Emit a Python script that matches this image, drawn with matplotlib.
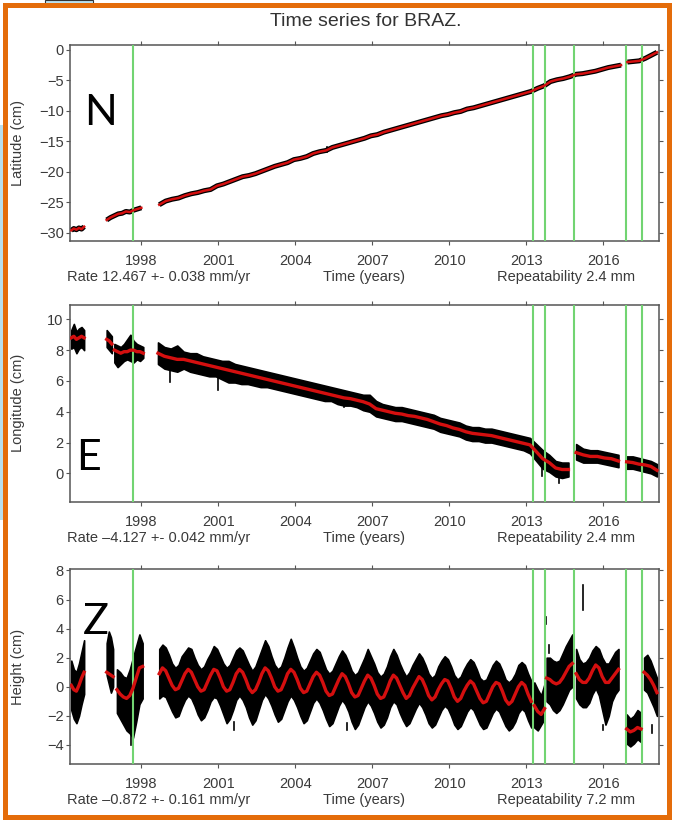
import numpy as np
import matplotlib
matplotlib.use("Agg")
import matplotlib.pyplot as plt
from matplotlib.patches import Rectangle

# ---------------- data ----------------
year_ticks = [1998, 2001, 2004, 2007, 2010, 2013, 2016]
breaks = [1997.66, 2013.28, 2013.74, 2014.88, 2016.88, 2017.52]

# North (latitude, cm): segment starts / steps / values
n_starts = [1995.27, 1996.65, 1998.70, 2016.95]
n_steps = [0.10, 0.15, 0.25, 0.23]
n_a = [-29.6, -29.3, -29.5, -29.2, -29.4, -29.0]
n_b = [-27.9, -27.5, -27.2, -26.9, -26.8, -26.5, -26.6, -26.3, -26.1, -25.9]
n_c = [-25.4, -24.8, -24.5, -24.3, -23.9, -23.6, -23.4, -23.1, -22.9, -22.3,
       -22.0, -21.6, -21.2, -20.8, -20.6, -20.3, -19.9, -19.5, -19.1, -18.8,
       -18.5, -18.0, -17.8, -17.5, -17.0, -16.7, -16.5, -16.0, -15.7, -15.4,
       -15.1, -14.8, -14.5, -14.1, -13.9, -13.5, -13.2, -12.9, -12.6, -12.3,
       -12.0, -11.7, -11.4, -11.1, -10.8, -10.6, -10.3, -10.1, -9.7, -9.5,
       -9.2, -8.9, -8.6, -8.3, -8.0, -7.7, -7.4, -7.1, -6.8, -6.3,
       -5.9, -5.2, -4.9, -4.7, -4.4, -4.0, -3.9, -3.7, -3.5, -3.2,
       -2.9, -2.7, -2.5]
n_d = [-2.0, -1.9, -1.8, -1.4, -0.9, -0.4]
n_spikes = [(2005.25, -16.8, -15.9)]

# East (longitude, cm)
e_starts = [1995.27, 1996.65, 1996.95, 1998.65, 2014.95, 2016.92]
e_steps = [0.10, 0.10, 0.125, 0.25, 0.275, 0.236]
e_model = [
    [8.8, 8.9, 8.7, 8.8, 8.9, 8.8],
    [8.7, 8.6, 8.4],
    [8.0, 7.9, 7.8, 7.9, 7.9, 8.0, 8.0, 7.9, 7.9, 7.8],
    [7.8, 7.6, 7.5, 7.4, 7.4, 7.3, 7.2, 7.1, 7.0, 6.9,
     6.8, 6.7, 6.6, 6.5, 6.4, 6.3, 6.2, 6.1, 6.0, 5.9,
     5.8, 5.7, 5.6, 5.5, 5.4, 5.3, 5.2, 5.1, 5.0, 4.9,
     4.85, 4.75, 4.65, 4.5, 4.2, 4.1, 4.0, 3.9, 3.85, 3.75,
     3.7, 3.6, 3.5, 3.35, 3.2, 3.1, 2.95, 2.85, 2.7, 2.6,
     2.55, 2.5, 2.45, 2.35, 2.25, 2.15, 2.05, 1.95, 1.85, 1.4,
     0.95, 0.7, 0.35, 0.25, 0.25],
    [1.35, 1.2, 1.1, 1.1, 1.0, 0.95, 0.8],
    [0.75, 0.7, 0.6, 0.55, 0.45, 0.2],
]
e_hi = [
    [9.3, 9.7, 9.2, 9.4, 9.5, 9.3],
    [9.3, 9.1, 8.9],
    [8.4, 8.3, 8.2, 8.4, 8.7, 9.0, 8.6, 8.4, 8.3, 8.2],
    [8.5, 8.2, 8.1, 8.3, 7.9, 7.8, 7.8, 7.6, 7.5, 7.4,
     7.3, 7.3, 7.1, 7.0, 6.9, 6.8, 6.7, 6.6, 6.5, 6.4,
     6.3, 6.2, 6.1, 6.0, 5.9, 5.8, 5.7, 5.6, 5.5, 5.4,
     5.3, 5.2, 5.1, 5.1, 4.7, 4.5, 4.4, 4.3, 4.3, 4.2,
     4.1, 4.0, 3.9, 3.8, 3.6, 3.5, 3.4, 3.3, 3.1, 3.0,
     3.0, 2.9, 2.9, 2.8, 2.7, 2.6, 2.5, 2.4, 2.3, 1.9,
     1.5, 1.2, 0.8, 0.7, 0.7],
    [1.9, 1.6, 1.5, 1.5, 1.4, 1.3, 1.2],
    [1.1, 1.1, 1.0, 0.9, 0.8, 0.6],
]
e_lo = [
    [8.1, 8.2, 7.8, 8.1, 8.2, 8.0],
    [8.2, 8.0, 7.8],
    [7.2, 6.9, 7.1, 7.3, 7.4, 7.3, 7.2, 7.4, 7.3, 7.5],
    [7.1, 6.8, 6.7, 6.6, 6.8, 6.6, 6.5, 6.4, 6.3, 6.3,
     6.1, 5.9, 5.9, 5.8, 5.8, 5.7, 5.6, 5.6, 5.5, 5.4,
     5.3, 5.2, 5.1, 5.0, 4.9, 4.8, 4.7, 4.7, 4.5, 4.4,
     4.4, 4.3, 4.1, 4.0, 3.7, 3.6, 3.5, 3.4, 3.4, 3.3,
     3.2, 3.1, 3.0, 2.9, 2.7, 2.6, 2.5, 2.4, 2.2, 2.1,
     2.1, 2.0, 2.0, 1.9, 1.8, 1.7, 1.6, 1.5, 1.3, 0.8,
     0.3, 0.1, -0.2, -0.3, -0.2],
    [0.9, 0.7, 0.7, 0.7, 0.6, 0.5, 0.4],
    [0.3, 0.3, 0.2, 0.1, 0.0, -0.2],
]
e_spikes = [(1999.1, 5.9, 6.8), (2001.0, 5.4, 6.2), (2005.9, 4.3, 4.9),
            (2013.6, -0.2, 0.5), (2014.3, -0.6, -0.1)]

# Height (cm)
z_starts = [1995.27, 1996.65, 1997.05, 1998.70, 2013.32, 2013.80, 2014.95,
            2016.92, 2017.60]
z_steps = [0.10, 0.083, 0.125, 0.125, 0.133, 0.125, 0.127, 0.14, 0.125]
z_model = [
    [0.1, -0.2, -0.3, 0.1, 0.6, 1.0],
    [1.0, 0.9, 0.8, 0.7],
    [-0.2, -0.5, -0.7, -0.8, -0.6, -0.1, 0.6, 1.3, 1.4],
    [0.9, 1.3, 1.1, 0.6, 0.1, -0.2, -0.1, 0.4,
     0.9, 1.2, 1.0, 0.5, 0.0, -0.3, -0.2, 0.3,
     0.8, 1.2, 1.1, 0.6, 0.0, -0.3, -0.2, 0.3,
     0.9, 1.2, 1.0, 0.5, -0.1, -0.4, -0.2, 0.3,
     0.9, 1.3, 1.1, 0.6, 0.0, -0.3, -0.2, 0.3,
     0.9, 1.2, 1.0, 0.5, -0.1, -0.4, -0.3, 0.2,
     0.7, 1.0, 0.8, 0.3, -0.3, -0.6, -0.5, 0.0,
     0.5, 0.9, 0.7, 0.2, -0.4, -0.7, -0.6, -0.1,
     0.4, 0.8, 0.6, 0.1, -0.5, -0.8, -0.7, -0.2,
     0.4, 0.8, 0.6, 0.1, -0.4, -0.8, -0.6, -0.1,
     0.3, 0.7, 0.5, 0.0, -0.6, -0.9, -0.7, -0.2,
     0.2, 0.5, 0.4, -0.1, -0.7, -1.0, -0.8, -0.3,
     0.1, 0.4, 0.2, -0.3, -0.8, -1.1, -1.0, -0.5,
     0.0, 0.3, 0.2, -0.3, -0.9, -1.2, -1.0, -0.5,
     0.0, 0.3, 0.1, -0.5, -1.0],
    [-1.3, -1.7, -1.9, -1.5],
    [0.6, 0.5, 0.3, 0.2, 0.3, 0.6, 1.0, 1.4, 1.6],
    [0.9, 0.5, 0.3, 0.3, 0.6, 1.1, 1.5, 1.3, 0.7, 0.3, 0.3, 0.6, 0.9, 1.2],
    [-2.9, -3.1, -3.0, -2.8, -2.9],
    [1.0, 0.8, 0.5, 0.1, -0.4],
]
z_hi = [
    [1.8, 1.2, 1.0, 1.6, 2.4, 3.2],
    [3.0, 3.8, 3.4, 2.6],
    [1.2, 1.0, 0.7, 0.6, 1.2, 2.0, 2.8, 3.6, 3.0],
    [2.6, 2.9, 2.7, 2.2, 1.6, 1.3, 1.5, 2.1,
     2.4, 2.7, 2.6, 2.0, 1.5, 1.2, 1.4, 1.9,
     2.3, 2.8, 2.6, 2.1, 1.6, 1.3, 1.5, 2.0,
     2.5, 2.7, 2.5, 2.0, 1.5, 1.1, 1.4, 2.0,
     2.6, 3.2, 2.8, 2.1, 1.5, 1.2, 1.4, 2.0,
     2.7, 3.3, 2.7, 2.0, 1.4, 1.1, 1.3, 1.8,
     2.3, 2.6, 2.4, 1.8, 1.2, 0.9, 1.1, 1.6,
     2.1, 2.5, 2.2, 1.7, 1.1, 0.8, 1.0, 1.5,
     2.0, 2.6, 2.1, 1.6, 1.0, 0.7, 0.9, 1.4,
     2.1, 2.6, 2.2, 1.6, 1.1, 0.7, 1.0, 1.5,
     1.9, 2.3, 2.0, 1.5, 0.9, 0.6, 0.8, 1.4,
     1.8, 2.1, 1.9, 1.4, 0.8, 0.5, 0.7, 1.2,
     1.6, 1.9, 1.7, 1.2, 0.6, 0.4, 0.5, 1.0,
     1.5, 1.8, 1.6, 1.1, 0.5, 0.3, 0.5, 0.9,
     1.5, 1.7, 1.5, 0.9, 0.4],
    [0.3, -0.2, -0.6, 0.2],
    [2.0, 2.0, 1.8, 1.7, 1.8, 2.3, 2.8, 3.2, 3.6],
    [2.6, 1.9, 1.6, 1.7, 2.0, 2.5, 2.8, 2.6, 2.0, 1.6, 1.6, 2.0, 2.4, 2.6],
    [-1.9, -2.2, -2.0, -1.6, -1.8],
    [2.0, 2.2, 1.8, 1.2, 0.6],
]
z_lo = [
    [-1.6, -2.2, -2.5, -2.0, -1.2, -0.5],
    [0.8, 0.2, -0.4, 0.0],
    [-1.8, -2.2, -2.6, -3.0, -3.2, -3.5, -2.4, -1.2, -0.8],
    [-0.8, -0.6, -0.7, -1.2, -1.7, -2.1, -2.0, -1.4,
     -0.9, -0.6, -0.8, -1.3, -1.9, -2.3, -2.1, -1.6,
     -1.0, -0.7, -0.8, -1.3, -1.9, -2.5, -2.2, -1.6,
     -0.9, -0.6, -0.9, -1.4, -2.1, -2.6, -2.3, -1.6,
     -0.9, -0.5, -0.8, -1.3, -1.9, -2.4, -2.2, -1.6,
     -1.0, -0.6, -0.9, -1.4, -2.0, -2.5, -2.3, -1.7,
     -1.1, -0.8, -1.1, -1.6, -2.2, -2.7, -2.5, -1.9,
     -1.3, -0.9, -1.2, -1.7, -2.4, -2.9, -2.6, -2.0,
     -1.4, -1.0, -1.3, -1.8, -2.4, -2.8, -2.6, -2.1,
     -1.4, -1.0, -1.2, -1.8, -2.3, -2.7, -2.5, -2.0,
     -1.5, -1.1, -1.4, -1.9, -2.5, -2.8, -2.6, -2.1,
     -1.6, -1.3, -1.5, -2.0, -2.6, -2.9, -2.7, -2.2,
     -1.7, -1.4, -1.6, -2.1, -2.6, -2.9, -2.8, -2.3,
     -1.8, -1.5, -1.7, -2.2, -2.7, -3.0, -2.8, -2.4,
     -1.8, -1.5, -1.7, -2.3, -2.8],
    [-2.8, -3.0, -2.6, -2.2],
    [-1.0, -1.2, -1.6, -1.8, -1.6, -1.2, -0.7, -0.2, 0.0],
    [-0.8, -1.2, -1.4, -1.4, -1.1, -0.5, -0.1, -0.6, -1.6, -2.6, -2.0, -1.0, -0.5, -0.2],
    [-3.9, -4.1, -3.9, -3.6, -3.8],
    [-0.2, -0.4, -0.9, -1.4, -2.0],
]
z_spikes = [(2015.2, 5.3, 7.0), (2013.76, 4.3, 4.8), (1997.6, -4.0, -3.0),
            (2001.6, -3.0, -2.4), (2006.0, -3.0, -2.5), (2013.9, 2.3, 2.9),
            (2016.0, -3.0, -2.6), (2017.9, -3.2, -2.6)]

panels = [
    dict(ylabel="Latitude (cm)", ylim=(-31.3, 0.8), yticks=[0, -5, -10, -15, -20, -25, -30],
         rate="Rate 12.467 +- 0.038 mm/yr", rep="Repeatability 2.4 mm", letter="N"),
    dict(ylabel="Longitude (cm)", ylim=(-1.84, 10.93), yticks=[0, 2, 4, 6, 8, 10],
         rate="Rate \u20134.127 +- 0.042 mm/yr", rep="Repeatability 2.4 mm", letter="E"),
    dict(ylabel="Height (cm)", ylim=(-5.33, 8.1), yticks=[-4, -2, 0, 2, 4, 6, 8],
         rate="Rate \u20130.872 +- 0.161 mm/yr", rep="Repeatability 7.2 mm", letter="Z"),
]

# ---------------- figure ----------------
W, H = 673, 822
fig = plt.figure(figsize=(W / 100, H / 100), dpi=100)
plt.rcParams['font.family'] = ['Liberation Sans', 'DejaVu Sans']

axes_px = [(45, 240.7), (305, 501.7), (569, 764.3)]  # top, bottom in pixels
left_px, right_px = 70, 659
letter_px = [(100, 113), (89, 458), (96, 622)]

RED = '#d40f0f'
GREEN = '#72d472'
TXT = '#3a3a3a'


def seg_times(start, step, n):
    return start + step * np.arange(n)


for i, p in enumerate(panels):
    top, bot = axes_px[i]
    ax = fig.add_axes([left_px / W, 1 - bot / H, (right_px - left_px) / W, (bot - top) / H])
    ax.set_xlim(1995.22, 2018.18)
    ax.set_ylim(*p['ylim'])

    for b in breaks:
        ax.axvline(b, color=GREEN, lw=1.5, zorder=3)

    if i == 0:
        for s, st, vals in zip(n_starts, n_steps, [n_a, n_b, n_c, n_d]):
            t = seg_times(s, st, len(vals))
            ax.plot(t, vals, color='black', lw=3.6, zorder=2, solid_capstyle='butt')
            ax.plot(t, vals, color=RED, lw=1.8, zorder=4)
        for (ts, a, b) in n_spikes:
            ax.plot([ts, ts], [a, b], color='black', lw=1.2, zorder=2)
    else:
        if i == 1:
            starts, steps, model, hi, lo, spikes = e_starts, e_steps, e_model, e_hi, e_lo, e_spikes
        else:
            starts, steps, model, hi, lo, spikes = z_starts, z_steps, z_model, z_hi, z_lo, z_spikes
        for s, st, m, h, l in zip(starts, steps, model, hi, lo):
            t = seg_times(s, st, len(m))
            ax.fill_between(t, l, h, color='black', lw=1.2, edgecolor='black', zorder=2)
            ax.plot(t, m, color=RED, lw=2.4, zorder=4)
        for (ts, a, b) in spikes:
            ax.plot([ts, ts], [a, b], color='black', lw=1.2, zorder=2)

    ax.set_xticks(year_ticks)
    ax.set_yticks(p['yticks'])
    ax.set_yticklabels([('\u2212' + str(abs(v))) if v < 0 else str(v) for v in p['yticks']])
    ax.tick_params(direction='out', length=3, width=0.8, colors='#555555',
                   top=True, right=True, labeltop=False, labelright=False,
                   labelsize=10.5, labelcolor=TXT)
    ax.tick_params(axis='x', pad=6.5)
    ax.tick_params(axis='y', pad=1.5)
    for sp in ax.spines.values():
        sp.set_color('#555555')
        sp.set_linewidth(1.1)

    # y label
    fig.text(18 / W, 1 - (top + bot) / 2 / H, p['ylabel'], rotation=90,
             ha='center', va='center', fontsize=10.5, color=TXT)
    # bottom line of text
    yb = 1 - (bot + 36) / H
    fig.text(67 / W, yb, p['rate'], ha='left', va='center', fontsize=10.5, color=TXT)
    fig.text(364 / W, yb, "Time (years)", ha='center', va='center', fontsize=10.5, color=TXT)
    fig.text(635 / W, yb, p['rep'], ha='right', va='center', fontsize=10.5, color=TXT)
    # big letter
    lx, ly = letter_px[i]
    fig.text(lx / W, 1 - ly / H, p['letter'], ha='center', va='center',
             fontsize=31, color='black', family=['Lato', 'DejaVu Sans'])

fig.text(366 / W, 1 - 21.7 / H, "Time series for BRAZ.", ha='center', va='center',
         fontsize=14, color='#333333')

# decorations: orange frame and cut-off bits
fig.patches.append(Rectangle((45 / W, 1 - 4 / H), 48 / W, 4 / H, transform=fig.transFigure,
                             facecolor='#b9dfee', edgecolor='#333333', lw=0.8, zorder=1))
fig.patches.append(Rectangle((0, 1 - 520 / H), 2.5 / W, 395 / H, transform=fig.transFigure,
                             facecolor='#b9dfee', edgecolor='none', zorder=1))
fig.patches.append(Rectangle((4.5 / W, 1 - 817 / H), 664.5 / W, 812 / H, transform=fig.transFigure,
                             facecolor='none', edgecolor='#e46c0a', lw=3.6, zorder=10))

fig.savefig("out.png", dpi=100)
